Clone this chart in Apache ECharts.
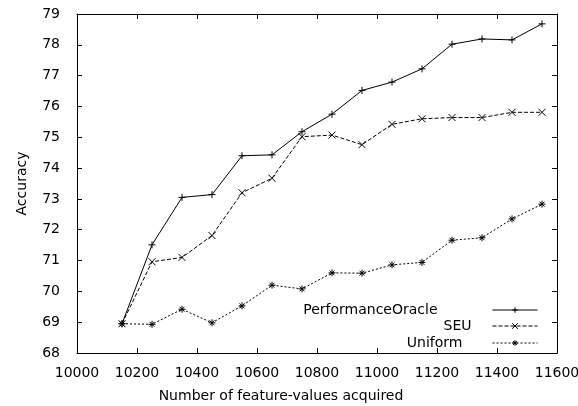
<!DOCTYPE html>
<html>
<head>
<meta charset="utf-8">
<script src="https://cdn.jsdelivr.net/npm/echarts@6/dist/echarts.min.js"></script>
<style>
  html, body { margin: 0; padding: 0; background: #fff; }
  #chart { width: 578px; height: 406px; }
</style>
</head>
<body>
<div id="chart"></div>
<script>
// feature-values acquired (x positions of the points)
var featureCounts = [10150, 10250, 10350, 10450, 10550, 10650, 10750, 10850, 10950, 11050, 11150, 11250, 11350, 11450, 11550];
var perfOracle = [68.95, 71.51, 73.05, 73.14, 74.40, 74.43, 75.18, 75.75, 76.52, 76.79, 77.22, 78.02, 78.19, 78.16, 78.68];
var seu = [68.95, 70.96, 71.10, 71.81, 73.20, 73.67, 75.02, 75.07, 74.76, 75.42, 75.60, 75.64, 75.64, 75.81, 75.81];
var uniform = [68.95, 68.93, 69.42, 68.98, 69.53, 70.20, 70.08, 70.60, 70.59, 70.86, 70.94, 71.66, 71.74, 72.35, 72.83];

var FONT = "DejaVu Sans";

function pairs(ys) {
  return featureCounts.map(function (x, i) { return [x, ys[i]]; });
}

function mkSeries(name, ys, symbol, lineType) {
  return {
    name: name,
    type: "line",
    data: pairs(ys),
    symbol: symbol,
    symbolSize: 7,
    showSymbol: true,
    color: "#000",
    itemStyle: { color: "transparent", borderColor: "#000", borderWidth: 1 },
    lineStyle: { color: "#000", width: 1, type: lineType },
    emphasis: { disabled: true }
  };
}

// gnuplot-style key: text right of box, sample line on the right
function mkLegend(name, top, padRight) {
  return {
    data: [name],
    right: 40,
    top: top,
    padding: 0,
    align: "right",
    itemWidth: 45,
    itemHeight: 7,
    itemStyle: { borderWidth: 1 },
    lineStyle: { width: 1 },
    textStyle: { fontFamily: FONT, fontSize: 14, color: "#000", padding: [0, padRight, 0, 0] }
  };
}

var chart = echarts.init(document.getElementById("chart"));
var option = {
  animation: false,
  grid: { left: 77, right: 21, top: 14, bottom: 53, containLabel: false, outerBoundsMode: "none" },
  legend: [
    mkLegend("PerformanceOracle", 303, 50),
    mkLegend("SEU", 319, 16),
    mkLegend("Uniform", 336, 25)
  ],
  xAxis: [
    {
      type: "value",
      min: 10000,
      max: 11600,
      interval: 200,
      name: "Number of feature-values acquired",
      nameLocation: "middle",
      nameGap: 36,
      nameTextStyle: { fontFamily: FONT, fontSize: 14, color: "#000", padding: [0, 72, 0, 0] },
      axisLine: { lineStyle: { color: "#000", width: 1 } },
      axisTick: { inside: true, length: 5, lineStyle: { color: "#000" } },
      axisLabel: { fontFamily: FONT, fontSize: 14, color: "#000", margin: 13, formatter: function (v) { return String(v); } },
      splitLine: { show: false }
    },
    {
      type: "value",
      position: "top",
      min: 10000,
      max: 11600,
      interval: 200,
      axisLine: { show: true, lineStyle: { color: "#000", width: 1 } },
      axisTick: { show: true, inside: true, length: 5, lineStyle: { color: "#000" } },
      axisLabel: { show: false },
      splitLine: { show: false }
    }
  ],
  yAxis: [
    {
      type: "value",
      min: 68,
      max: 79,
      interval: 1,
      name: "Accuracy",
      nameLocation: "middle",
      nameGap: 48,
      nameTextStyle: { fontFamily: FONT, fontSize: 14, color: "#000" },
      axisLine: { show: true, lineStyle: { color: "#000", width: 1 } },
      axisTick: { show: true, inside: true, length: 5, lineStyle: { color: "#000" } },
      axisLabel: { fontFamily: FONT, fontSize: 14, color: "#000", margin: 17 },
      splitLine: { show: false }
    },
    {
      type: "value",
      position: "right",
      min: 68,
      max: 79,
      interval: 1,
      axisLine: { show: true, lineStyle: { color: "#000", width: 1 } },
      axisTick: { show: true, inside: true, length: 5, lineStyle: { color: "#000" } },
      axisLabel: { show: false },
      splitLine: { show: false }
    }
  ],
  series: [
    mkSeries("PerformanceOracle", perfOracle, "path://M0,5L10,5M5,0L5,10", "solid"),
    mkSeries("SEU", seu, "path://M0,0L10,10M10,0L0,10", [4, 2]),
    mkSeries("Uniform", uniform, "path://M0,5L10,5M5,0L5,10M1.5,1.5L8.5,8.5M8.5,1.5L1.5,8.5", [2, 2])
  ]
};
chart.setOption(option);
</script>
</body>
</html>
